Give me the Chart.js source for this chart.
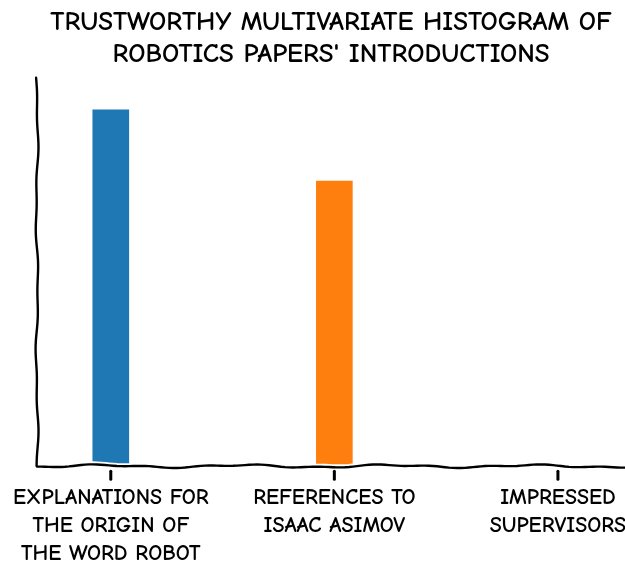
<!DOCTYPE html>
<html>
<head>
<meta charset="utf-8">
<script src="https://cdn.jsdelivr.net/npm/chart.js@4"></script>
<style>
	html, body { margin: 0; padding: 0; background: #fff; overflow: hidden; }
	#wrap { width: 625px; height: 565px; }
</style>
</head>
<body>
<div id="wrap"><canvas id="chart"></canvas></div>
<script>
const titleLines = ['TRUSTWORTHY MULTIVARIATE HISTOGRAM OF', 'ROBOTICS PAPERS\' INTRODUCTIONS'];
const categories = [
	['EXPLANATIONS FOR', 'THE ORIGIN OF', 'THE WORD ROBOT'],
	['REFERENCES TO', 'ISAAC ASIMOV'],
	['IMPRESSED', 'SUPERVISORS'],
];
const values = [100, 80, 0];
const barColors = ['#1f77b4', '#ff7f0e', '#2ca02c'];

const FONT = '\'Humor Sans\', \'Comic Neue\', \'Liberation Sans Narrow\', \'DejaVu Sans Condensed\', sans-serif';

// xkcd-like wobble for hand drawn lines
function wobble(t, seed) {
	return 1.2 * Math.sin(t / 23 + seed) + 0.7 * Math.sin(t / 9 + seed * 2.3);
}

const xkcdAxes = {
	id: 'xkcdAxes',
	afterDraw(chart) {
		const ctx = chart.ctx;
		const area = chart.chartArea;
		const xScale = chart.scales.x;

		ctx.save();
		ctx.lineCap = 'round';
		ctx.lineJoin = 'round';

		const drawPath = (pts, color, width) => {
			ctx.beginPath();
			pts.forEach((p, i) => (i ? ctx.lineTo(p[0], p[1]) : ctx.moveTo(p[0], p[1])));
			ctx.strokeStyle = color;
			ctx.lineWidth = width;
			ctx.stroke();
		};

		// y axis
		const yPts = [];
		for (let y = area.top; y <= area.bottom; y += 4) {
			yPts.push([area.left + wobble(y, 1.7) * 0.8, y]);
		}
		// x axis
		const xPts = [];
		for (let x = area.left; x <= chart.width + 4; x += 4) {
			xPts.push([x, area.bottom + wobble(x, 0.4)]);
		}
		drawPath(yPts, '#fff', 6);
		drawPath(xPts, '#fff', 6);
		drawPath(yPts, '#000', 2.4);
		drawPath(xPts, '#000', 2.4);

		// tick marks
		xScale.ticks.forEach((t) => {
			const px = xScale.getPixelForValue(t.value);
			drawPath([[px, area.bottom + 5], [px, area.bottom + 13]], '#000', 3);
		});
		ctx.restore();
	},
};

const canvas = document.getElementById('chart');

const config = {
	type: 'bar',
	data: {
		datasets: [{
			data: values.map((v, i) => ({ x: i, y: v })),
			backgroundColor: barColors,
			borderColor: '#fff',
			borderWidth: 0,
			barThickness: 36,
		}],
	},
	options: {
		responsive: true,
		maintainAspectRatio: false,
		animation: false,
		layout: { padding: { left: 37, right: 0, top: 0, bottom: -21 } },
		plugins: {
			legend: { display: false },
			tooltip: { enabled: false },
			title: {
				display: true,
				text: titleLines,
				color: '#000',
				font: { family: FONT, size: 27, weight: 'bold', lineHeight: 1.2 },
				padding: { top: 6, bottom: 7 },
			},
		},
		scales: {
			x: {
				type: 'linear',
				offset: false,
				min: -0.33,
				max: 2.3,
				grid: { display: false, drawTicks: false },
				border: { display: false },
				afterBuildTicks: (scale) => {
					scale.ticks = categories.map((c, i) => ({ value: i }));
				},
				afterFit: (scale) => {
					scale.paddingLeft = 0;
					scale.paddingRight = 0;
				},
				ticks: {
					autoSkip: false,
					maxRotation: 0,
					padding: 18,
					color: '#000',
					font: { family: FONT, size: 22, weight: 'bold', lineHeight: 1.27 },
					callback: (v) => categories[v],
				},
			},
			y: {
				display: false,
				min: 0,
				max: 109,
			},
		},
	},
	plugins: [xkcdAxes],
};

new Chart(canvas, config);
</script>
</body>
</html>
